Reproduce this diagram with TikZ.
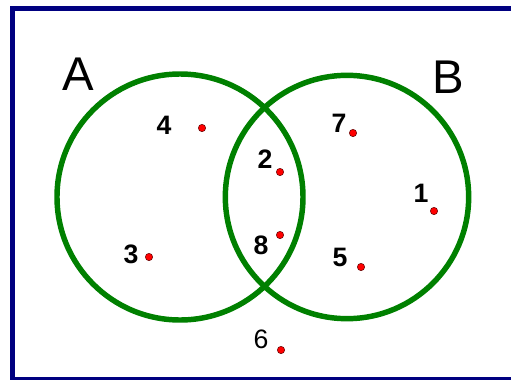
\documentclass[tikz,border=0pt]{standalone}
\usepackage{fontspec}
\setmainfont{Liberation Sans}
\usepackage{tikz}
\definecolor{framecol}{HTML}{000080}
\definecolor{ringcol}{HTML}{008000}
\definecolor{dotfill}{HTML}{FF0000}
\definecolor{dotline}{HTML}{600000}
\tikzset{
  setring/.style = {circle, draw=ringcol, line width=4.1pt, minimum size=184.5pt, inner sep=0pt},
  setlbl/.style  = {inner sep=0pt, font=\fontsize{35.5}{40}\selectfont},
  elemlbl/.style = {inner sep=0pt, font=\fontsize{20}{24}\selectfont\bfseries},
  elemdot/.style = {circle, draw=dotline, fill=dotfill, line width=0.4pt, minimum size=5.5pt, inner sep=0pt},
  outerbox/.style= {draw=framecol, line width=3.75pt},
}

\begin{document}
\begin{tikzpicture}[x=0.75pt, y=-0.75pt]
  \useasboundingbox (0,0) rectangle (511,379);
  \draw[outerbox] (12,8.5) rectangle (540,379);
  % the two sets
  \node[setring] (ringA) at (180,197) {};
  \node[setring, minimum size=182.5pt] (ringB) at (347,197) {};
  \node[setlbl] (labA) at (78,74) {A};
  \node[setlbl] (labB) at (448,77) {B};
  % elements
  \node[elemlbl] (t4) at (164,125) {4};  \node[elemdot] (d4) at (202,128) {};
  \node[elemlbl] (t2) at (265,159) {2};  \node[elemdot] (d2) at (280,172) {};
  \node[elemlbl] (t8) at (261,245) {8};  \node[elemdot] (d8) at (280,235) {};
  \node[elemlbl] (t3) at (131,254) {3};  \node[elemdot] (d3) at (149,257) {};
  \node[elemlbl] (t7) at (339,123) {7};  \node[elemdot] (d7) at (353,133) {};
  \node[elemlbl] (t1) at (421,193) {1};  \node[elemdot] (d1) at (434,211) {};
  \node[elemlbl] (t5) at (340,257) {5};  \node[elemdot] (d5) at (361,267) {};
  \node[elemlbl, font=\fontsize{20}{24}\selectfont] (t6) at (261,339) {6};  \node[elemdot] (d6) at (281,350) {};
\end{tikzpicture}
\end{document}
